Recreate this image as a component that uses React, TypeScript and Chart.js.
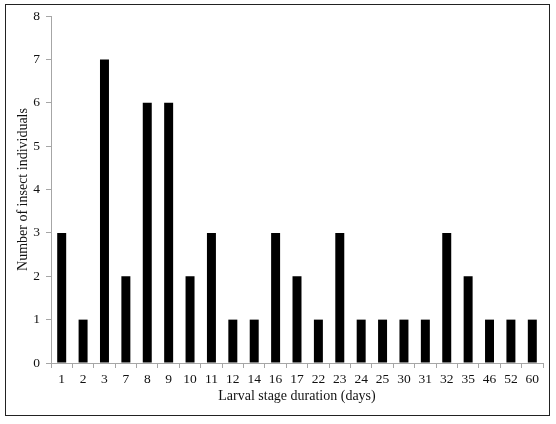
import React, { useEffect, useRef } from "react";
import { Chart, registerables } from "chart.js";

Chart.register(...registerables);

const categories = ["1","2","3","7","8","9","10","11","12","14","16","17","22","23","24","25","30","31","32","35","46","52","60"];
const counts = [3,1,7,2,6,6,2,3,1,1,3,2,1,3,1,1,1,1,3,2,1,1,1];
const yTicks = [0,1,2,3,4,5,6,7,8];

const FONT = "'Liberation Serif', 'Times New Roman', serif";

const frame = {
  id: "frame",
  afterDraw(chart: any) {
    const ctx = chart.ctx;
    ctx.save();
    ctx.strokeStyle = "#222";
    ctx.lineWidth = 1;
    ctx.strokeRect(5.5, 4.5, 544, 411);
    ctx.restore();
  },
};

export default function App() {
  const ref = useRef<HTMLCanvasElement>(null);
  useEffect(() => {
    document.body.style.margin = "0";
    const chart = new Chart(ref.current!, {
      type: "bar",
      data: {
        labels: categories,
        datasets: [{ data: counts, backgroundColor: "#000", borderWidth: 0, barPercentage: 0.42, categoryPercentage: 1 }],
      },
      options: {
        animation: false,
        responsive: false,
        layout: { padding: { left: 15, right: 13, top: 16, bottom: 19 } },
        plugins: { legend: { display: false }, tooltip: { enabled: false } },
        scales: {
          x: {
            offset: true,
            grid: { offset: true, drawOnChartArea: false, drawTicks: true, tickLength: 5, color: "#a6a6a6" },
            border: { color: "#a6a6a6" },
            ticks: { color: "#111", font: { family: FONT, size: 13.5 }, padding: 3, maxRotation: 0, autoSkip: false },
            title: { display: true, text: "Larval stage duration (days)", color: "#111", font: { family: FONT, size: 14 }, padding: { top: 0, bottom: 0 } },
            afterFit: (s: any) => { s.height = 424 - 363 - 19; },
          },
          y: {
            min: 0,
            max: 8,
            afterBuildTicks: (s: any) => { s.ticks = yTicks.map((v) => ({ value: v })); },
            grid: { drawOnChartArea: false, drawTicks: true, tickLength: 5, color: "#a6a6a6" },
            border: { color: "#a6a6a6" },
            ticks: { color: "#111", font: { family: FONT, size: 13.5 }, padding: 6 },
            title: { display: true, text: "Number of insect individuals", color: "#111", font: { family: FONT, size: 14 }, padding: { top: 0, bottom: 0 } },
            afterFit: (s: any) => { s.width = 51 - 15; },
          },
        },
      },
      plugins: [frame],
    });
    return () => chart.destroy();
  }, []);
  return (
    <div style={{ position: "absolute", left: 0, top: 0, width: 556, height: 424, background: "#fff" }}>
      <canvas ref={ref} width={556} height={424} />
    </div>
  );
}
